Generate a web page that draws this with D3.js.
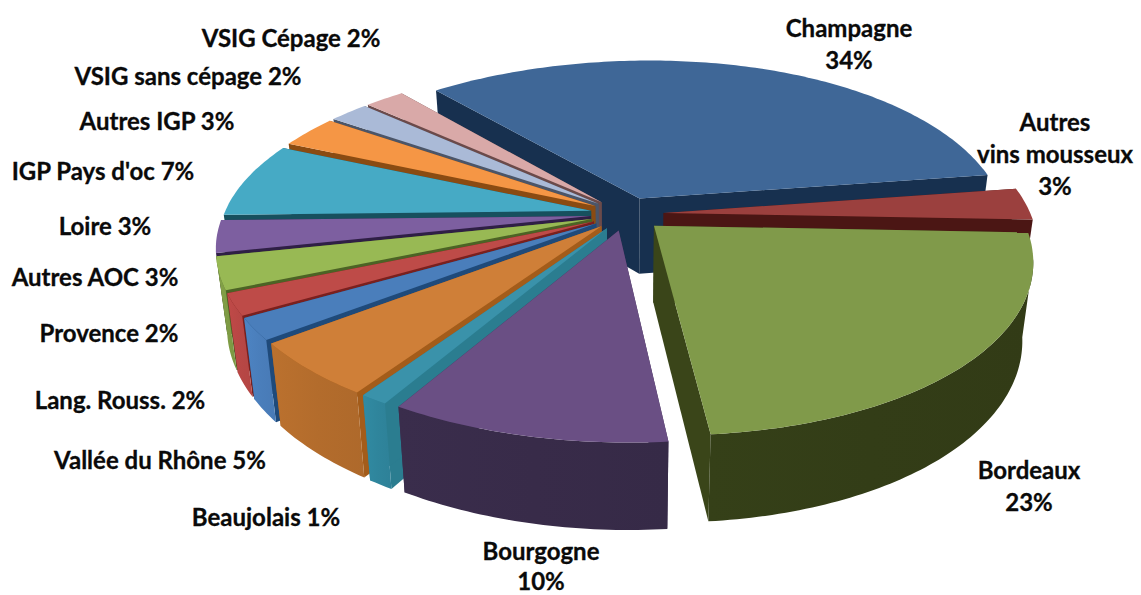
<!DOCTYPE html>
<html>
<head>
<meta charset="utf-8">
<script src="https://cdn.jsdelivr.net/npm/d3@7"></script>
<style>
  html, body { margin: 0; background: #fff; }
  text { font-family: Lato, "Open Sans", sans-serif; font-weight: 700; fill: #0a0a0a; stroke: #0a0a0a; stroke-width: 0.3px; }
</style>
</head>
<body>
<div id="canvas"></div>
<script>
// chart data
const categories = ['Champagne', 'Autres vins mousseux', 'Bordeaux', 'Bourgogne', 'Beaujolais',
    'Vallée du Rhône', 'Lang. Rouss.', 'Provence', 'Autres AOC', 'Loire',
    "IGP Pays d'oc", 'Autres IGP', 'VSIG sans cépage', 'VSIG Cépage'];
const shares = [34, 3, 23, 10, 1, 5, 2, 2, 3, 3, 7, 3, 2, 2];

// colours per slice: top face, outer wall, cut faces
const topColors = ['#3f6797', '#9b403e', '#809a4a', '#6a4f84', '#3a92aa', '#cf7f38', '#4a7ebb',
    '#be4b48', '#98b954', '#7d5fa0', '#46aac5', '#f59645', '#aabad7', '#d9a9a8'];
const wallColors = ['#1b3551', '#4b1614', '#333d17', '#382b49', '#2f859c', '#b36c2c', '#4a7ebb',
    '#b84745', '#7f9c45', '#5d4580', '#2f7f95', '#b86e2a', '#7f8ca6', '#a57f7e'];
const cutColors = ['#17304f', '#4b1614', '#3a4519', '#3e2f52', '#2b7d90', '#a35c1a', '#1f4a7a',
    '#7a201e', '#4c6325', '#2f1f45', '#17505e', '#8a4b12', '#4b5568', '#6b4a4a'];

// label anchors (centre x, centre y of the first line)
const labelAnchors = [[849, 29], [1055, 123], [1029, 471], [541, 552], [266, 518],
    [160, 461], [120, 401], [109, 334], [95, 278], [105, 227],
    [103, 172], [157, 122], [188, 77], [291, 39]];
const lineHeight = 32;

// dimensions
const width = 1141;
const height = 595;
const center = { x: 627, y: 214 };
const radiusX = 367;
const radiusY = 167.6;
const perspective = 0.178;
const lean = 10; // front and back of the cake sit a little to the right
const explode = 0.1;
const depth = 76;
const startDeg = -41;

const svg = d3.select('#canvas')
    .append('svg')
    .attr('width', width)
    .attr('height', height)
    .style('display', 'block');

const defs = svg.append('defs');
const rad = d => d * Math.PI / 180;

// disc plane -> screen, bottom = true gives the lower rim of the cake
function project(u, v, bottom) {
    const den = 1 - perspective * v;
    let x = center.x + radiusX * u / den + lean * v * v;
    let y = center.y + radiusY * v / den;
    if (bottom) {
        x = center.x + (x - center.x) * 0.973;
        y = y + depth + 0.05 * (y - center.y);
    }
    return [x, y];
}

const pie = d3.pie()
    .sort(null)
    .startAngle(rad(startDeg))
    .endAngle(rad(startDeg + 360));

const arcs = pie(shares).map((d, i) => {
    const mid = (d.startAngle + d.endAngle) / 2;
    return {
        i,
        a0: d.startAngle,
        a1: d.endAngle,
        mid,
        du: explode * Math.sin(mid),
        dv: -explode * Math.cos(mid)
    };
});

const line = d3.line();

function rimPoint(s, a, bottom) {
    return project(s.du + Math.sin(a), s.dv - Math.cos(a), bottom);
}
function rimAngles(s) {
    const n = Math.max(4, Math.round((s.a1 - s.a0) * 60));
    return d3.range(n + 1).map(k => s.a0 + (s.a1 - s.a0) * k / n);
}

// back slices first
const ordered = arcs.slice().sort((a, b) => Math.cos(b.mid) - Math.cos(a.mid));

const pieGroup = svg.append('g').attr('class', 'pie');

ordered.forEach(s => {
    const g = pieGroup.append('g');
    const apexTop = project(s.du, s.dv, false);
    const apexBot = project(s.du, s.dv, true);

    // the two cut faces
    [s.a0, s.a1].forEach(a => {
        g.append('path')
            .attr('d', line([apexTop, rimPoint(s, a, false), rimPoint(s, a, true), apexBot]) + 'Z')
            .attr('fill', cutColors[s.i]);
    });

    // outer wall, only where the rim faces the viewer
    const front = rimAngles(s).filter(a => -Math.cos(a) > perspective);
    if (front.length > 1) {
        const upper = front.map(a => rimPoint(s, a, false));
        const lower = front.map(a => rimPoint(s, a, true)).reverse();

        // wall is a bit lighter on the left
        const grad = defs.append('linearGradient')
            .attr('id', 'wall' + s.i)
            .attr('x1', 0)
            .attr('x2', 1);
        const c = d3.color(wallColors[s.i]);
        grad.append('stop').attr('offset', 0).attr('stop-color', c.brighter(0.12));
        grad.append('stop').attr('offset', 0.5).attr('stop-color', c);
        grad.append('stop').attr('offset', 1).attr('stop-color', c.darker(0.08));

        g.append('path')
            .attr('d', line(upper.concat(lower)) + 'Z')
            .attr('fill', `url(#wall${s.i})`);
    }

    // top face
    const top = [apexTop].concat(rimAngles(s).map(a => rimPoint(s, a, false)));
    g.append('path')
        .attr('d', line(top) + 'Z')
        .attr('fill', topColors[s.i]);
});

// labels
const labelLines = (name, pct) => {
    if (name === 'Autres vins mousseux') return ['Autres', 'vins mousseux', pct + '%'];
    if (pct >= 10) return [name, pct + '%'];
    return [name + ' ' + pct + '%'];
};

const labels = svg.append('g').attr('class', 'labels');
categories.forEach((name, i) => {
    const gap = name === 'Bourgogne' ? 30 : lineHeight; // last line has to stay inside the page
    const text = labels.append('text')
        .attr('text-anchor', 'middle')
        .attr('font-size', 24);
    labelLines(name, shares[i]).forEach((t, k) => {
        text.append('tspan')
            .attr('x', labelAnchors[i][0])
            .attr('y', labelAnchors[i][1] + k * gap + 8)
            .text(t);
    });
});
</script>
</body>
</html>
